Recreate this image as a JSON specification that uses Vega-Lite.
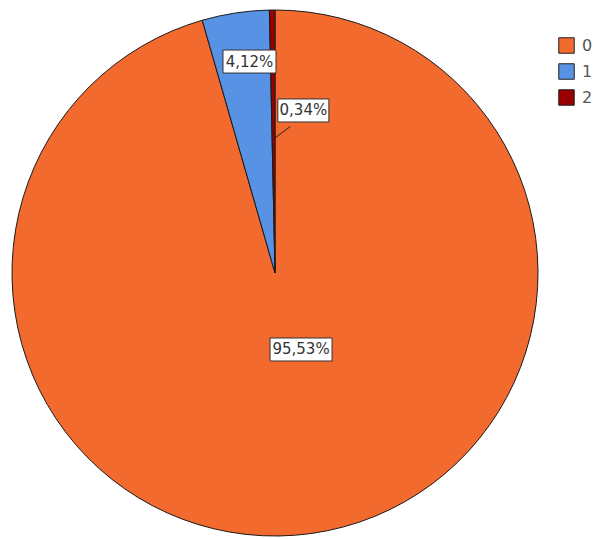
{
  "$schema": "https://vega.github.io/schema/vega-lite/v6.json",
  "width": 550,
  "height": 546,
  "padding": 0,
  "background": "white",
  "view": {"stroke": null},
  "data": {
    "values": [
      {"category": "0", "pct": 95.53},
      {"category": "1", "pct": 4.12},
      {"category": "2", "pct": 0.34}
    ]
  },
  "layer": [
    {
      "mark": {"type": "arc", "radius": 263, "stroke": "#1a1a1a", "strokeWidth": 1},
      "encoding": {
        "theta": {"field": "pct", "type": "quantitative", "stack": true},
        "order": {"field": "category", "type": "nominal", "sort": "ascending"},
        "color": {
          "field": "category",
          "type": "nominal",
          "scale": {"domain": ["0", "1", "2"], "range": ["#f26a2e", "#5792e4", "#9b0000"]},
          "legend": {
            "title": null,
            "orient": "none",
            "legendX": 558,
            "legendY": 37,
            "symbolType": "square",
            "symbolSize": 240,
            "symbolStrokeColor": "#222222",
            "symbolStrokeWidth": 1,
            "symbolFillOpacity": 1,
            "symbolOpacity": 1,
            "labelFont": "DejaVu Sans",
            "labelFontSize": 16,
            "labelColor": "#555555",
            "labelOffset": 7,
            "rowPadding": 5,
            "padding": 0
          }
        }
      }
    },
    {
      "transform": [
        {"window": [{"op": "sum", "field": "pct", "as": "cum"}], "sort": [{"field": "category"}], "frame": [null, 0]},
        {"calculate": "(datum.cum - datum.pct / 2) * 3.6", "as": "mid"},
        {"calculate": "datum.mid + (datum.category === '0' ? -10.75 : datum.category === '1' ? 1.8 : 10.55)", "as": "la"},
        {"calculate": "datum.category === '0' ? 80.8 : datum.category === '1' ? 213 : 165", "as": "lr"},
        {"calculate": "datum.lr * sin(datum.la * PI / 180)", "as": "lx"},
        {"calculate": "datum.lr * cos(datum.la * PI / 180)", "as": "ly"},
        {"calculate": "135 * sin(datum.cum * 3.6 * PI / 180)", "as": "ax"},
        {"calculate": "135 * cos(datum.cum * 3.6 * PI / 180)", "as": "ay"},
        {"calculate": "datum.lx - 13", "as": "bx"},
        {"calculate": "datum.ly - 16", "as": "by"},
        {"calculate": "replace(format(datum.pct, '.2f'), '.', ',') + '%'", "as": "label"}
      ],
      "layer": [
        {
          "transform": [{"filter": "datum.category === '2'"}],
          "mark": {"type": "rule", "color": "#222222", "strokeWidth": 1},
          "encoding": {
            "x": {"field": "ax", "type": "quantitative", "scale": {"domain": [-275, 275], "nice": false, "zero": false}, "axis": null},
            "y": {"field": "ay", "type": "quantitative", "scale": {"domain": [-273, 273], "nice": false, "zero": false}, "axis": null},
            "x2": {"field": "bx"},
            "y2": {"field": "by"}
          }
        },
        {
          "mark": {"type": "point", "filled": true, "fill": "white", "stroke": "#333333", "strokeWidth": 1, "opacity": 1, "size": 4},
          "encoding": {
            "x": {"field": "lx", "type": "quantitative", "scale": {"domain": [-275, 275], "nice": false, "zero": false}, "axis": null},
            "y": {"field": "ly", "type": "quantitative", "scale": {"domain": [-273, 273], "nice": false, "zero": false}, "axis": null},
            "shape": {
              "field": "label",
              "type": "nominal",
              "scale": {"domain": ["95,53%", "4,12%", "0,34%"], "range": ["M-31,-11.5H31V11.5H-31Z", "M-26.5,-11.5H26.5V11.5H-26.5Z", "M-25.5,-11.5H25.5V11.5H-25.5Z"]},
              "legend": null
            }
          }
        },
        {
          "mark": {"type": "text", "font": "DejaVu Sans", "fontSize": 15, "color": "#333333", "align": "center", "baseline": "middle"},
          "encoding": {
            "x": {"field": "lx", "type": "quantitative", "scale": {"domain": [-275, 275], "nice": false, "zero": false}, "axis": null},
            "y": {"field": "ly", "type": "quantitative", "scale": {"domain": [-273, 273], "nice": false, "zero": false}, "axis": null},
            "text": {"field": "label"}
          }
        }
      ]
    }
  ]
}
